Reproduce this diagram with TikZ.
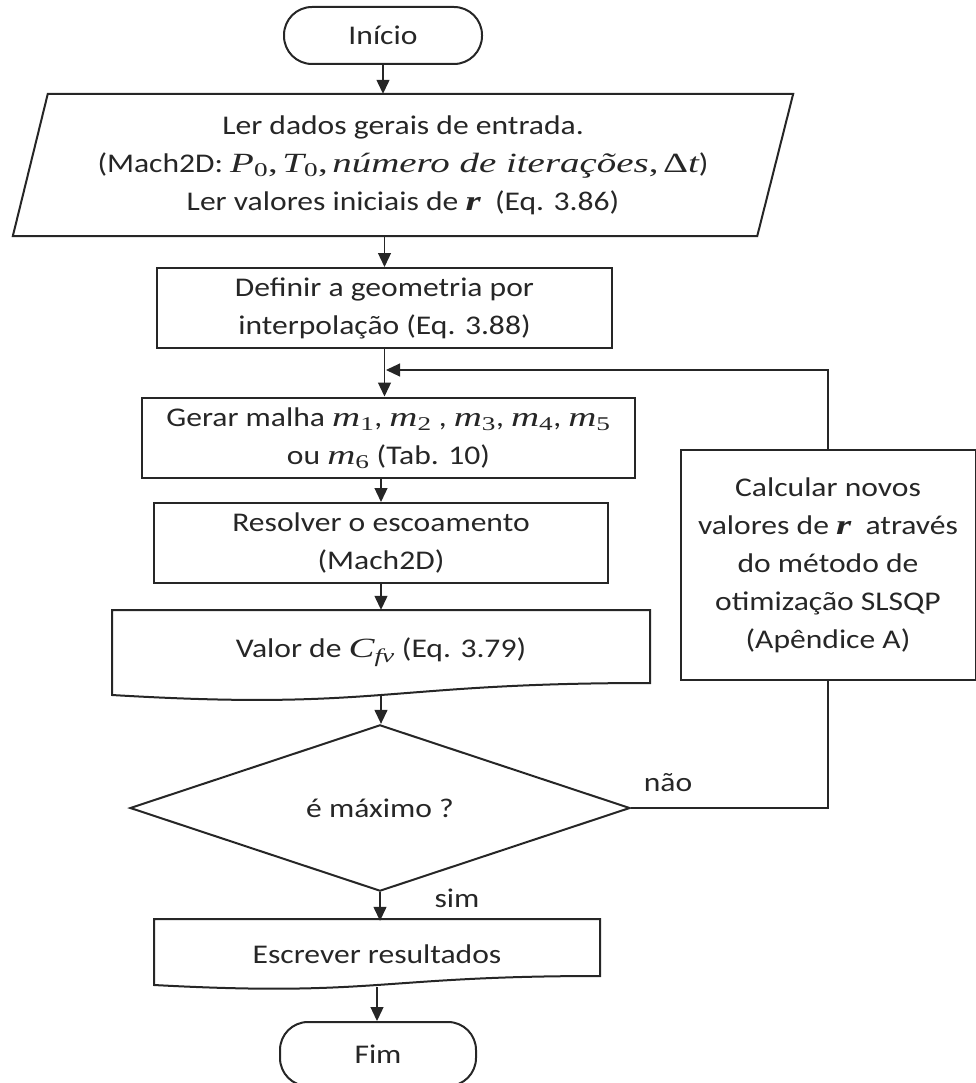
\documentclass[tikz,border=0pt]{standalone}
\usepackage{amsmath}
\usepackage{fontspec}
\setmainfont{Carlito}[FakeStretch=1.17]
\newfontfamily\serifital{Liberation Serif}[Scale=1.03, FakeStretch=1.4]
\usetikzlibrary{arrows.meta,shapes.geometric}
\definecolor{lc}{HTML}{262626}
\definecolor{tc}{HTML}{262626}
\newcommand{\mv}[2]{{\serifital\itshape #1}\textsubscript{\serifital #2}}
\newcommand{\mr}{{\serifital\bfseries\itshape r}}
\newcommand{\tb}[2][0pt]{\raisebox{#1}{\begin{tabular}{@{}c@{}}#2\end{tabular}}}
\begin{document}
\begin{tikzpicture}[x=1pt,y=-1pt,
  box/.style={draw=lc, line width=2pt, inner sep=2pt, align=center, text=tc},
  term/.style={box, rounded corners=28pt},
  lbl/.style={text=tc, inner sep=0pt, align=center},
  doc/.style={draw=lc, line width=2pt},
  arr/.style={draw=lc, line width=1.3pt, -{Triangle[length=14pt,width=13pt]}},
  thinln/.style={draw=lc, line width=1.1pt},
  every node/.append style={font=\fontsize{27pt}{38pt}\selectfont}]
\useasboundingbox (0,0) rectangle (976,1083);
\clip (0,0) rectangle (976,1083);

% start
\node[term, minimum width=198pt, minimum height=57pt] (ini) at (383,35.5) {Início};

% input parallelogram
\node[lbl, minimum width=780pt, minimum height=142pt] (par) at (403,165)
  {Ler dados gerais de entrada.\\
   (Mach2D: \mv{P}{0}{\serifital ,}\,\mv{T}{0}{\serifital ,}\,{\serifital\itshape número de iterações}{\serifital ,}\,{\serifital Δ\itshape t})\\
   Ler valores iniciais de \mr~ (Eq. 3.86)};
\draw[doc] ([xshift=35pt]par.north west) -- (par.north east)
  -- ([xshift=-36pt]par.south east) -- (par.south west) -- cycle;

% process boxes
\node[box, minimum width=455pt, minimum height=78pt] (def) at (384.5,308)
  {\tb[-3pt]{Definir a geometria por\\interpolação (Eq. 3.88)}};
\node[box, minimum width=493pt, minimum height=75pt] (ger) at (388.5,437.5)
  {\tb[-3pt]{Gerar malha \mv{m}{1}, \mv{m}{2} , \mv{m}{3}, \mv{m}{4}, \mv{m}{5}\\ou \mv{m}{6} (Tab. 10)}};
\node[box, minimum width=454pt, minimum height=72pt] (res) at (381,543)
  {\tb[-7pt]{Resolver o escoamento\\(Mach2D)}};

% document: Valor
\node[lbl, minimum width=538pt, minimum height=85pt] (val) at (381,652.5)
  {Valor de {\serifital\itshape C}\textsubscript{\serifital\itshape fv} (Eq. 3.79)};
\draw[doc] (112,610) -- (650,610) -- (650,683)
  .. controls (381,683) and (381,711) .. (112,695) -- cycle;

% decision
\node[draw=lc, line width=2pt, diamond, minimum width=500pt, minimum height=150pt,
  inner sep=0pt, text=tc] (dec) at (380,808) {é máximo ?};

% document: Escrever
\node[lbl, minimum width=446pt, minimum height=66pt] (esc) at (377,954)
  {Escrever resultados};
\draw[doc] (154,919) -- (600,919) -- (600,976)
  .. controls (377,976) and (377,997) .. (154,985) -- cycle;

% end
\node[term, minimum width=196pt, minimum height=64pt] (fim) at (378,1054) {Fim};

% side process
\node[box, minimum width=295pt, minimum height=230pt] (calc) at (828,565)
  {\tb[-4pt]{Calcular novos\\valores de \mr~ através\\do método de\\otimização SLSQP\\(Apêndice A)}};

% connectors
\draw[arr] (ini.south) -- (ini.south |- par.north);
\draw[arr] (def.north |- par.south) -- (def.north);
\draw[arr] (def.south) -- (def.south |- ger.north);
\draw[arr] (res.north |- ger.south) -- (res.north);
\draw[arr] (res.south) -- (res.south |- val.north);
\draw[arr] (val.south) -- (val.south |- dec.north);
\draw[arr] (dec.south) -- (dec.south |- esc.north);
\draw[arr] (esc.south) -- (esc.south |- fim.north);

\coordinate (join) at (386,370);
\draw[thinln, -{Triangle[length=14pt,width=13pt]}] (calc.north) |- (join);
\draw[thinln] (dec.east) -| (calc.south);

\node[lbl] (nao) at (668,783) {não};
\node[lbl] (sim) at (457,898) {sim};
\end{tikzpicture}
\end{document}
